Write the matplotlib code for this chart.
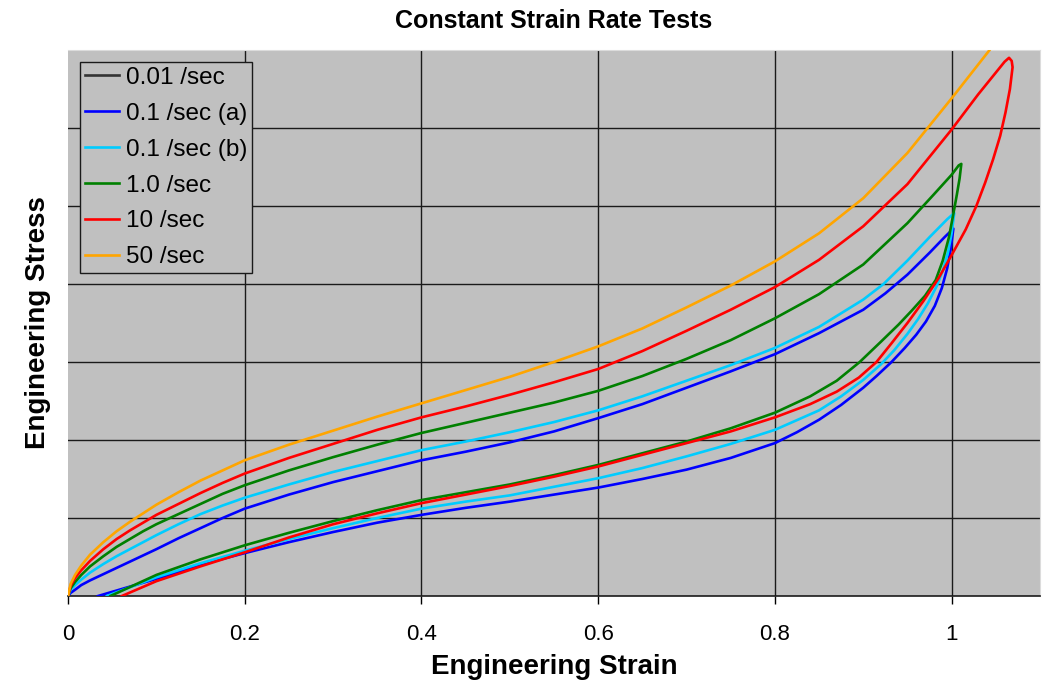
"""
Constant strain rate tests - loading / unloading loops
"""

import matplotlib
matplotlib.use("Agg")
import matplotlib.pyplot as plt

plt.rcParams["font.family"] = ["Liberation Sans", "DejaVu Sans"]

# 50 /sec (loading only, runs off the top)
orange_x = [0, 0.003, 0.008, 0.015, 0.025, 0.04, 0.055, 0.07, 0.085, 0.1, 0.125, 0.15,
            0.175, 0.2, 0.25, 0.3, 0.35, 0.4, 0.45, 0.5, 0.55, 0.6, 0.65, 0.7, 0.75,
            0.8, 0.85, 0.9, 0.95, 1.0, 1.043, 1.06]
orange_y = [0, 0.155, 0.27, 0.39, 0.53, 0.69, 0.83, 0.95, 1.06, 1.17, 1.33, 1.48,
            1.61, 1.74, 1.94, 2.12, 2.30, 2.47, 2.64, 2.81, 3.0, 3.20, 3.43, 3.70, 3.98,
            4.29, 4.65, 5.10, 5.68, 6.38, 7.0, 7.3]

# 10 /sec loop (loading then unloading)
red_x = [0, 0.003, 0.008, 0.015, 0.025, 0.04, 0.055, 0.07, 0.085, 0.1, 0.125, 0.15,
         0.175, 0.2, 0.25, 0.3, 0.35, 0.4, 0.45, 0.5, 0.55, 0.6, 0.65, 0.7, 0.75,
         0.8, 0.85, 0.9, 0.95, 1.0, 1.03, 1.05, 1.06, 1.065, 1.068, 1.069,
         1.066, 1.061, 1.055, 1.047, 1.038, 1.028, 1.016, 1.0, 0.985, 0.968, 0.95,
         0.932, 0.915, 0.895, 0.87, 0.84, 0.8, 0.75, 0.7, 0.65, 0.6, 0.55, 0.5,
         0.45, 0.4, 0.35, 0.3, 0.25, 0.2, 0.15, 0.1, 0.061]
red_y = [0, 0.13, 0.23, 0.33, 0.45, 0.60, 0.73, 0.84, 0.94, 1.04, 1.18, 1.32,
         1.45, 1.57, 1.77, 1.95, 2.13, 2.29, 2.43, 2.58, 2.74, 2.91, 3.14, 3.40, 3.67,
         3.96, 4.31, 4.74, 5.28, 5.98, 6.43, 6.71, 6.85, 6.90, 6.86, 6.78,
         6.5, 6.2, 5.9, 5.6, 5.3, 5.0, 4.7, 4.37, 4.07, 3.78, 3.5,
         3.24, 3.0, 2.80, 2.62, 2.46, 2.29, 2.11, 1.96, 1.81, 1.66, 1.53, 1.41,
         1.30, 1.19, 1.06, 0.92, 0.75, 0.56, 0.38, 0.19, 0]

# 1.0 /sec loop
green_x = [0, 0.003, 0.008, 0.015, 0.025, 0.04, 0.055, 0.07, 0.085, 0.1, 0.125, 0.15,
           0.175, 0.2, 0.25, 0.3, 0.35, 0.4, 0.45, 0.5, 0.55, 0.6, 0.65, 0.7, 0.75,
           0.8, 0.85, 0.9, 0.95, 0.98, 1.0, 1.008, 1.011,
           1.009, 1.006, 1.002, 0.997, 0.99, 0.982, 0.97, 0.955, 0.94, 0.92, 0.896,
           0.87, 0.84, 0.8, 0.75, 0.7, 0.65, 0.6, 0.55, 0.5, 0.45, 0.4, 0.35, 0.3,
           0.25, 0.2, 0.15, 0.1, 0.048]
green_y = [0, 0.10, 0.18, 0.27, 0.38, 0.51, 0.63, 0.73, 0.83, 0.92, 1.05, 1.18,
           1.31, 1.42, 1.61, 1.78, 1.94, 2.09, 2.22, 2.35, 2.48, 2.63, 2.82, 3.04, 3.28,
           3.56, 3.87, 4.25, 4.78, 5.15, 5.40, 5.52, 5.54,
           5.35, 5.15, 4.9, 4.6, 4.3, 4.05, 3.85, 3.66, 3.48, 3.26, 3.0,
           2.76, 2.56, 2.35, 2.15, 1.98, 1.83, 1.68, 1.55, 1.43, 1.33, 1.23, 1.10, 0.96,
           0.81, 0.65, 0.47, 0.27, 0]

# 0.1 /sec (b) loop
cyan_x = [0, 0.003, 0.008, 0.015, 0.025, 0.04, 0.055, 0.07, 0.085, 0.1, 0.125, 0.15,
          0.175, 0.2, 0.25, 0.3, 0.35, 0.4, 0.45, 0.5, 0.55, 0.6, 0.65, 0.7, 0.75,
          0.8, 0.85, 0.9, 0.923, 0.95, 0.975, 0.995, 1.003,
          1.0, 0.996, 0.99, 0.983, 0.973, 0.962, 0.95, 0.935, 0.92, 0.9, 0.875, 0.85,
          0.8, 0.75, 0.7, 0.65, 0.6, 0.55, 0.5, 0.45, 0.4, 0.35, 0.3, 0.25, 0.2,
          0.15, 0.1, 0.044]
cyan_y = [0, 0.08, 0.14, 0.21, 0.30, 0.41, 0.51, 0.60, 0.69, 0.78, 0.92, 1.05,
          1.16, 1.26, 1.43, 1.59, 1.73, 1.87, 1.98, 2.10, 2.23, 2.38, 2.56, 2.76, 2.96,
          3.18, 3.45, 3.80, 4.0, 4.30, 4.60, 4.83, 4.91,
          4.65, 4.41, 4.17, 3.97, 3.75, 3.55, 3.36, 3.15, 2.97, 2.77, 2.56, 2.38,
          2.13, 1.95, 1.79, 1.64, 1.51, 1.40, 1.29, 1.21, 1.12, 1.00, 0.87, 0.73, 0.58,
          0.42, 0.24, 0]

# 0.1 /sec (a) loop
blue_x = [0, 0.003, 0.008, 0.015, 0.025, 0.04, 0.055, 0.07, 0.085, 0.1, 0.125, 0.15,
          0.175, 0.2, 0.25, 0.3, 0.35, 0.4, 0.45, 0.5, 0.55, 0.6, 0.65, 0.7, 0.75,
          0.8, 0.85, 0.9, 0.925, 0.95, 0.975, 0.992, 1.002,
          0.999, 0.995, 0.989, 0.981, 0.971, 0.96, 0.947, 0.932, 0.915, 0.9, 0.875,
          0.85, 0.825, 0.8, 0.75, 0.7, 0.65, 0.6, 0.55, 0.5, 0.45, 0.4, 0.35, 0.3,
          0.25, 0.2, 0.15, 0.1, 0.034]
blue_y = [0, 0.04, 0.08, 0.14, 0.20, 0.28, 0.36, 0.44, 0.52, 0.60, 0.74, 0.87,
          1.0, 1.12, 1.30, 1.46, 1.60, 1.74, 1.85, 1.97, 2.11, 2.28, 2.46, 2.67, 2.88,
          3.10, 3.37, 3.67, 3.88, 4.12, 4.40, 4.60, 4.71,
          4.45, 4.2, 3.95, 3.72, 3.52, 3.35, 3.18, 3.0, 2.82, 2.67, 2.45,
          2.26, 2.10, 1.96, 1.77, 1.62, 1.50, 1.39, 1.30, 1.21, 1.13, 1.04, 0.94, 0.82,
          0.69, 0.55, 0.40, 0.22, 0]

x_ticks = [0, 0.2, 0.4, 0.6, 0.8, 1.0]
x_tick_labels = ["0", "0.2", "0.4", "0.6", "0.8", "1"]
y_grid = [1, 2, 3, 4, 5, 6]

fig = plt.figure(figsize=(10.51, 6.86), dpi=100, facecolor="white")
ax = fig.add_axes([0.0647, 0.1312, 0.9248, 0.7959])
ax.set_facecolor("#c0c0c0")

for yv in y_grid:
    ax.axhline(yv, color="#1a1a1a", linewidth=1.0, zorder=1)
for xv in x_ticks[1:]:
    ax.axvline(xv, color="#1a1a1a", linewidth=1.0, zorder=1)

lw = 1.9
ax.plot([], [], color="#333333", linewidth=lw, label="0.01 /sec")
ax.plot(blue_x, blue_y, color="#0000ff", linewidth=lw, label="0.1 /sec (a)", zorder=3)
ax.plot(cyan_x, cyan_y, color="#00ccff", linewidth=lw, label="0.1 /sec (b)", zorder=3)
ax.plot(green_x, green_y, color="#008000", linewidth=lw, label="1.0 /sec", zorder=3)
ax.plot(red_x, red_y, color="#ff0000", linewidth=lw, label="10 /sec", zorder=3)
ax.plot(orange_x, orange_y, color="#ffa500", linewidth=lw, label="50 /sec", zorder=3)

ax.set_xlim(0, 1.1)
ax.set_ylim(0, 7)
ax.set_xticks(x_ticks)
ax.set_xticklabels(x_tick_labels)
ax.set_yticks([])
ax.tick_params(axis="x", direction="out", length=6, width=1, color="black",
               labelsize=16, pad=14)

ax.spines["left"].set_visible(False)
ax.spines["bottom"].set_color("#1a1a1a")
ax.spines["bottom"].set_linewidth(1.2)
ax.spines["top"].set_color("#dcdcdc")
ax.spines["right"].set_color("#dcdcdc")

ax.set_xlabel("Engineering Strain", fontsize=20, fontweight="bold", labelpad=7)
ax.set_ylabel("Engineering Stress", fontsize=20, fontweight="bold", labelpad=12)
ax.set_title("Constant Strain Rate Tests", fontsize=18, fontweight="bold", pad=16)

leg = ax.legend(loc="upper left", bbox_to_anchor=(0.012, 0.978), borderaxespad=0,
                fontsize=17.5, fancybox=False, facecolor="#c0c0c0", edgecolor="#1a1a1a",
                framealpha=1, handlelength=1.4, handletextpad=0.3, labelspacing=0.57,
                borderpad=0.2)
leg.get_frame().set_linewidth(1.0)

fig.savefig("out.png", dpi=100, facecolor="white")
plt.close(fig)
